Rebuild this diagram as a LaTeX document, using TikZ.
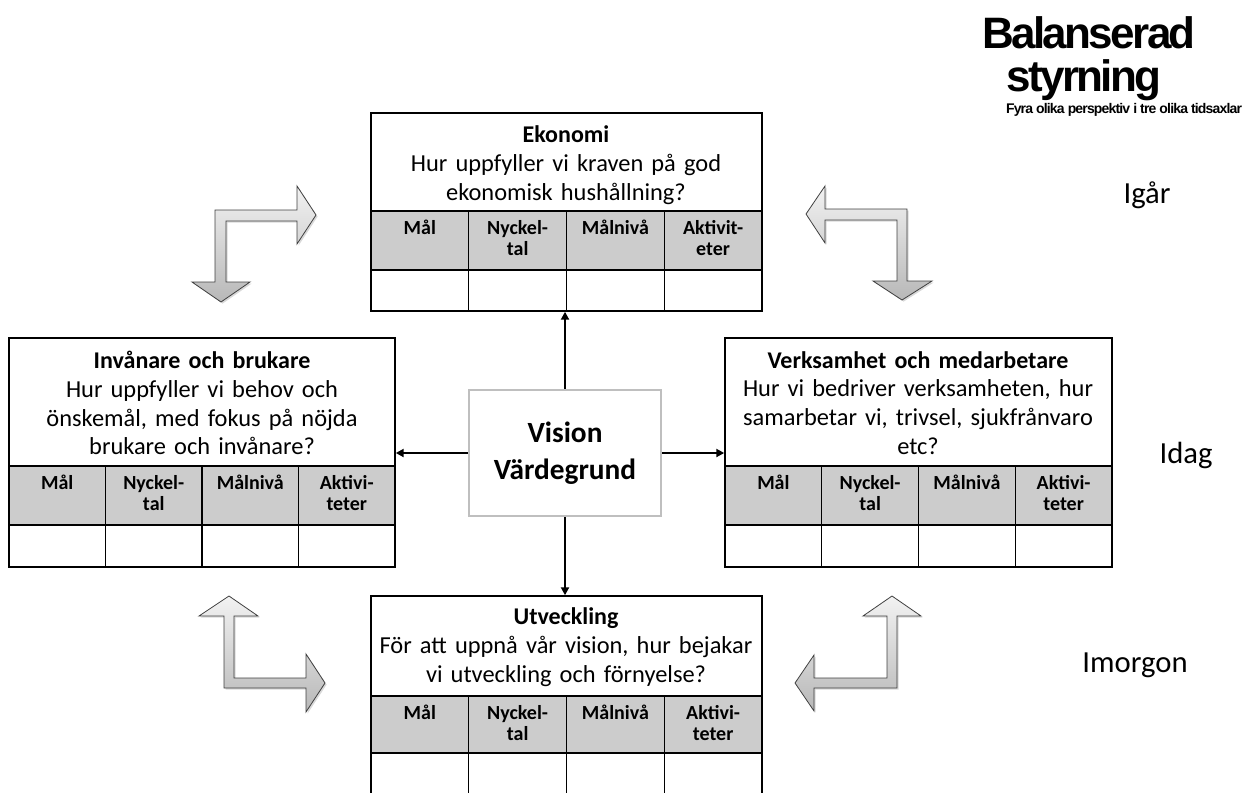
\documentclass[tikz,border=0pt]{standalone}
\usepackage{fontspec}
\setmainfont{Carlito}
\newfontfamily\titlefont{Liberation Sans}[LetterSpace=-6]
\usetikzlibrary{arrows.meta,shadows,fit}

\tikzset{
  perbox/.style={draw=black, line width=1.1pt, inner sep=0pt},
  grayrow/.style={fill=black!20},
  cellline/.style={line width=1.1pt},
  headline/.style={line width=1.8pt},
  headtext/.style={align=center, text width=290pt, font=\fontsize{18.3}{21.6}\selectfont},
  celltext/.style={anchor=north, align=center, inner sep=0pt, font=\fontsize{15}{15.75}\selectfont\bfseries},
  visionbox/.style={draw=black!25, line width=2pt, fill=white, align=center,
    minimum width=144pt, minimum height=94.5pt, font=\fontsize{22}{27.75}\selectfont\bfseries},
  link/.style={line width=1.5pt, -{Triangle[length=6pt,width=6pt]}},
  bentarrow/.style={draw=black!75, line width=0.6pt, top color=black!5, bottom color=black!28,
    drop shadow={opacity=0.3, shadow xshift=1.2pt, shadow yshift=-1.2pt}},
  timelabel/.style={font=\fontsize{23}{27}\selectfont},
  titletext/.style={anchor=base, inner sep=0pt, font=\titlefont\bfseries\fontsize{33}{36}\selectfont},
}

\begin{document}
\begin{tikzpicture}[x=0.75pt, y=-0.75pt]
 \useasboundingbox (0,0) rectangle (1244,792);

 % title
 \node[titletext] (title1) at (1089,49) {Balanserad};
 \node[titletext] (title2) at (1084,91) {styrning};
 \node[anchor=base, inner sep=0pt, font=\titlefont\bfseries\fontsize{10.5}{12}\selectfont] (subtitle) at (1124,113) {Fyra olika perspektiv i tre olika tidsaxlar};

 % time axis
 \node[timelabel] (igar) at (1147,195) {Igår};
 \node[timelabel] (idag) at (1186,455) {Idag};
 \node[timelabel] (imorgon) at (1135,665) {Imorgon};

 % the four perspectives
 \foreach \nm/\lx/\rx/\ty/\dy/\gy/\by/\akt in {
   eko/371/762/113/211/270/311/{Aktivit-\\eter},
   inv/9/395/338/466/525/567/{Aktivi-\\teter},
   verk/725/1112/338/466/525/567/{Aktivi-\\teter},
   utv/371/762/596/696/753/794/{Aktivi-\\teter}}{
   \fill[grayrow] (\lx,\dy) rectangle (\rx,\gy);
   \draw[cellline] (\lx,\gy) -- (\rx,\gy);
   \foreach \k in {1,2,3}
     \draw[cellline] ({\lx+(\rx-\lx)*\k/4},\dy) -- ({\lx+(\rx-\lx)*\k/4},\by);
   \draw[headline] (\lx,\dy) -- (\rx,\dy);
   \node[perbox, fit={(\lx,\ty) (\rx,\by)}] (\nm) {};
   \foreach \c [count=\k] in {Mål,{Nyckel-\\tal},Målnivå,\akt}
     \node[celltext] (\nm-\k) at ({\lx+(\rx-\lx)*(\k-0.5)/4},\dy+9) {\c};
 }

 \node[headtext] (eko-text) at (566,165) {{\fontsize{18}{21.6}\selectfont\bfseries Ekonomi}\\Hur uppfyller vi kraven på god\\ekonomisk hushållning?};
 \node[headtext] (inv-text) at (202,403) {{\fontsize{18}{21.6}\selectfont\bfseries Invånare och brukare}\\Hur uppfyller vi behov och\\önskemål, med fokus på nöjda\\brukare och invånare?};
 \node[headtext] (verk-text) at (918,403) {{\fontsize{18}{21.6}\selectfont\bfseries Verksamhet och medarbetare}\\Hur vi bedriver verksamheten, hur\\samarbetar vi, trivsel, sjukfrånvaro\\etc?};
 \node[headtext] (utv-text) at (566,647) {{\fontsize{18}{21.6}\selectfont\bfseries Utveckling}\\För att uppnå vår vision, hur bejakar\\vi utveckling och förnyelse?};

 % center
 \node[visionbox] (vision) at (565,453) {Vision\\Värdegrund};
 \draw[link] (vision.north) -- (vision.north |- eko.south);
 \draw[link] (vision.south) -- (vision.south |- utv.north);
 \draw[link] (vision.west) -- (vision.west -| inv.east);
 \draw[link] (vision.east) -- (vision.east -| verk.west);

 % bent arrows
 \draw[bentarrow] (221,302) -- (250,282) -- (226,282) -- (226,221) -- (297,221) -- (297,244)
   -- (316,215) -- (297,186) -- (297,210) -- (215,210) -- (215,282) -- (192,282) -- cycle;
 \draw[bentarrow] (806,214) -- (825,186) -- (825,209) -- (907,209) -- (907,281) -- (932,281)
   -- (902,300) -- (873,281) -- (897,281) -- (897,220) -- (825,220) -- (825,243) -- cycle;
 \draw[bentarrow] (229,596) -- (258,616) -- (234,616) -- (234,678) -- (306,678) -- (306,654)
   -- (325,683) -- (306,712) -- (306,688) -- (224,688) -- (224,616) -- (199,616) -- cycle;
 \draw[bentarrow] (892,596) -- (921,616) -- (897,616) -- (897,688) -- (814,688) -- (814,711)
   -- (795,683) -- (814,655) -- (814,678) -- (887,678) -- (887,616) -- (863,616) -- cycle;
\end{tikzpicture}
\end{document}
